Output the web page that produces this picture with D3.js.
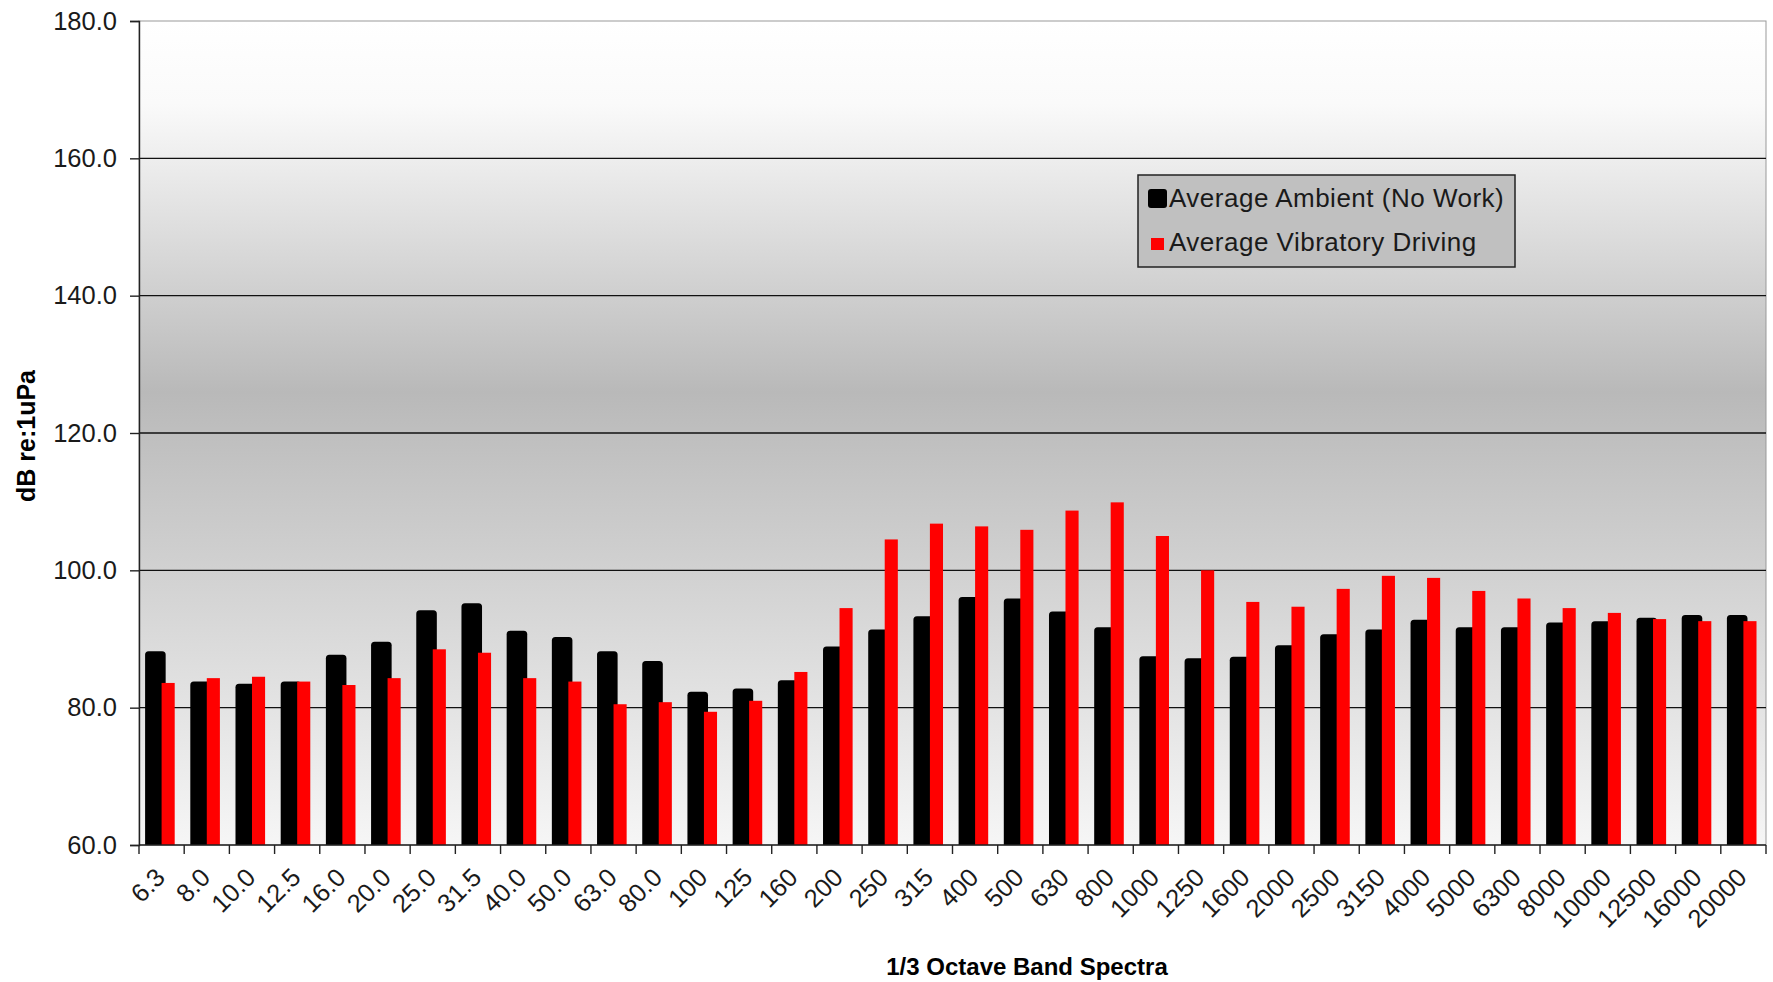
<!DOCTYPE html>
<html>
<head>
<meta charset="utf-8">
<script src="https://cdn.jsdelivr.net/npm/d3@7"></script>
<style>
  body { margin: 0; background: #fff; }
  svg { display: block; font-family: "Liberation Sans", Arial, sans-serif; }
</style>
</head>
<body>
<svg id="chart" width="1773" height="982"></svg>
<script>
// 1/3 octave band centre frequencies (tick labels)
var bands = ["6.3", "8.0", "10.0", "12.5", "16.0", "20.0", "25.0", "31.5", "40.0", "50.0",
    "63.0", "80.0", "100", "125", "160", "200", "250", "315", "400", "500",
    "630", "800", "1000", "1250", "1600", "2000", "2500", "3150", "4000", "5000",
    "6300", "8000", "10000", "12500", "16000", "20000"];

// Average Ambient (No Work)
var ambient = [88.2, 83.8, 83.5, 83.8, 87.7, 89.6, 94.2, 95.2, 91.2, 90.3,
    88.2, 86.8, 82.3, 82.8, 84.0, 88.9, 91.4, 93.3, 96.1, 95.9,
    94.0, 91.7, 87.5, 87.2, 87.4, 89.1, 90.7, 91.4, 92.8, 91.7,
    91.7, 92.4, 92.6, 93.1, 93.5, 93.5];

// Average Vibratory Driving
var vibratory = [83.6, 84.3, 84.5, 83.8, 83.3, 84.3, 88.5, 88.0, 84.3, 83.8,
    80.5, 80.8, 79.4, 81.0, 85.2, 94.5, 104.5, 106.8, 106.4, 105.9,
    108.7, 109.9, 105.0, 100.0, 95.4, 94.7, 97.3, 99.2, 98.9, 97.0,
    95.9, 94.5, 93.8, 92.9, 92.6, 92.6];

var seriesNames = ["Average Ambient (No Work)", "Average Vibratory Driving"];
var yTicks = [60, 80, 100, 120, 140, 160, 180];

var svg = d3.select("#chart");
var plotLeft = 139, plotRight = 1766, plotTop = 21, plotBottom = 845;

var x = d3.scaleBand().domain(bands).range([plotLeft, plotRight]).padding(0);
var y = d3.scaleLinear().domain([60, 180]).range([plotBottom, plotTop]);
var bw = x.bandwidth();

// plot background gradient
var defs = svg.append("defs");
var grad = defs.append("linearGradient").attr("id", "bg")
    .attr("x1", 0).attr("y1", 0).attr("x2", 0).attr("y2", 1);
grad.append("stop").attr("offset", "0%").attr("stop-color", "#ffffff");
grad.append("stop").attr("offset", "10%").attr("stop-color", "#fafafa");
grad.append("stop").attr("offset", "45%").attr("stop-color", "#b9b9b9");
grad.append("stop").attr("offset", "100%").attr("stop-color", "#f6f6f6");

svg.append("rect")
    .attr("x", plotLeft).attr("y", plotTop)
    .attr("width", plotRight - plotLeft).attr("height", plotBottom - plotTop)
    .attr("fill", "url(#bg)")
    .attr("stroke", "#999").attr("stroke-width", 1);

// gridlines
svg.append("g").selectAll("line")
    .data(yTicks.filter(function(d) { return d > 60 && d < 180; }))
    .enter().append("line")
    .attr("x1", plotLeft).attr("x2", plotRight)
    .attr("y1", function(d) { return y(d); })
    .attr("y2", function(d) { return y(d); })
    .attr("stroke", "#111").attr("stroke-width", 1.4);

// black bars with rounded tops
function roundTop(x0, y0, w, h, r) {
    return "M" + x0 + "," + (y0 + h) +
        "V" + (y0 + r) +
        "Q" + x0 + "," + y0 + " " + (x0 + r) + "," + y0 +
        "H" + (x0 + w - r) +
        "Q" + (x0 + w) + "," + y0 + " " + (x0 + w) + "," + (y0 + r) +
        "V" + (y0 + h) + "Z";
}

svg.append("g").selectAll("path")
    .data(ambient)
    .enter().append("path")
    .attr("d", function(d, i) {
        return roundTop(x(bands[i]) + bw * 0.135, y(d), bw * 0.455, plotBottom - y(d), 3.5);
    })
    .attr("fill", "#000");

svg.append("g").selectAll("rect")
    .data(vibratory)
    .enter().append("rect")
    .attr("x", function(d, i) { return x(bands[i]) + bw * 0.5; })
    .attr("y", function(d) { return y(d); })
    .attr("width", bw * 0.29)
    .attr("height", function(d) { return plotBottom - y(d); })
    .attr("fill", "#ff0000");

// y axis
var yAxis = d3.axisLeft(y).tickValues(yTicks)
    .tickFormat(d3.format(".1f")).tickSize(9).tickPadding(13);
var gy = svg.append("g").attr("transform", "translate(" + plotLeft + ",0)").call(yAxis);
gy.select(".domain").attr("stroke", "#222").attr("stroke-width", 1.4);
gy.selectAll(".tick line").attr("stroke", "#222").attr("stroke-width", 1.4);
gy.selectAll(".tick text").attr("font-size", 25.5).attr("fill", "#1a1a1a")
    .attr("font-family", "'Liberation Sans', Arial, sans-serif");

// x axis: ticks on category boundaries
var boundaries = bands.map(function(b) { return x(b); }).concat([plotRight]);
svg.append("line").attr("x1", plotLeft).attr("x2", plotRight)
    .attr("y1", plotBottom).attr("y2", plotBottom)
    .attr("stroke", "#222").attr("stroke-width", 1.4);
svg.append("g").selectAll("line")
    .data(boundaries).enter().append("line")
    .attr("x1", function(d) { return d; }).attr("x2", function(d) { return d; })
    .attr("y1", plotBottom).attr("y2", plotBottom + 9)
    .attr("stroke", "#222").attr("stroke-width", 1.4);

svg.append("g").selectAll("text")
    .data(bands).enter().append("text")
    .attr("transform", function(d) {
        return "translate(" + (x(d) + bw / 2 + 5) + "," + 879 + ") rotate(-45)";
    })
    .attr("text-anchor", "end")
    .attr("font-size", 25.5)
    .attr("fill", "#1a1a1a")
    .text(function(d) { return d; });

// axis titles
svg.append("text")
    .attr("transform", "translate(35,436) rotate(-90)")
    .attr("text-anchor", "middle")
    .attr("font-size", 25).attr("font-weight", "bold")
    .text("dB re:1uPa");

svg.append("text")
    .attr("x", 1027).attr("y", 975)
    .attr("text-anchor", "middle")
    .attr("font-size", 24).attr("font-weight", "bold")
    .text("1/3 Octave Band Spectra");

// legend
var lg = svg.append("g");
lg.append("rect").attr("x", 1138).attr("y", 175).attr("width", 377).attr("height", 92)
    .attr("fill", "#c0c0c0").attr("stroke", "#222").attr("stroke-width", 1.5);
lg.append("rect").attr("x", 1148).attr("y", 189).attr("width", 19).attr("height", 19)
    .attr("rx", 3).attr("fill", "#000");
lg.append("rect").attr("x", 1151).attr("y", 238).attr("width", 13).attr("height", 12)
    .attr("fill", "#ff0000");
lg.selectAll("text.lab").data(seriesNames).enter().append("text")
    .attr("class", "lab")
    .attr("x", 1169)
    .attr("y", function(d, i) { return 207 + i * 44; })
    .attr("font-size", 26).attr("letter-spacing", 0.5).attr("fill", "#1a1a1a")
    .text(function(d) { return d; });
</script>
</body>
</html>
